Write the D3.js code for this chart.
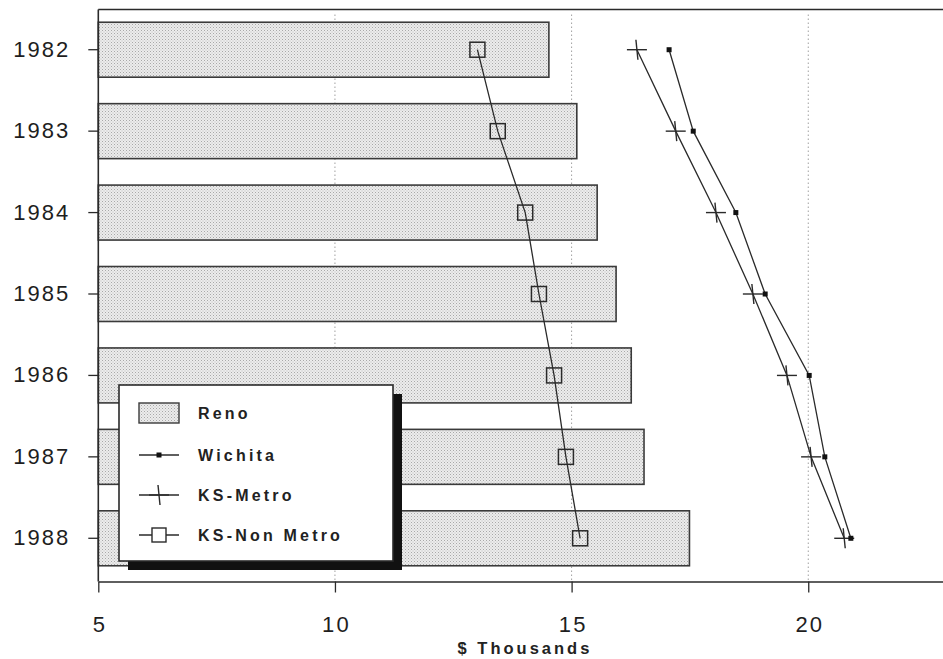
<!DOCTYPE html>
<html>
<head>
<meta charset="utf-8">
<script src="https://cdn.jsdelivr.net/npm/d3@7/dist/d3.min.js"></script>
<style>
  html, body { margin: 0; padding: 0; background: #fff; }
  svg { display: block; }
</style>
</head>
<body>
<svg id="chart" width="943" height="659"></svg>
<script>
// Per-capita income by year, $ thousands
const years = ["1982", "1983", "1984", "1985", "1986", "1987", "1988"];
const reno = [14.52, 15.11, 15.54, 15.94, 16.26, 16.53, 17.49];
const wichita = [17.06, 17.57, 18.47, 19.09, 20.02, 20.35, 20.90];
const ksMetro = [16.38, 17.20, 18.05, 18.83, 19.55, 20.06, 20.76];
const ksNonMetro = [13.01, 13.44, 14.02, 14.31, 14.63, 14.88, 15.18];
const xTicks = [5, 10, 15, 20];
const xTitle = "$ Thousands";
const legendLabels = ["Reno", "Wichita", "KS-Metro", "KS-Non Metro"];

const svg = d3.select("#chart");
const ink = "#2a2a2a";
const font = "'Liberation Sans', Arial, Helvetica, sans-serif";

// stipple fill for the bars
const defs = svg.append("defs");
const pat = defs.append("pattern")
  .attr("id", "stipple").attr("patternUnits", "userSpaceOnUse")
  .attr("width", 3).attr("height", 3);
pat.append("rect").attr("width", 3).attr("height", 3).attr("fill", "#ececec");
pat.append("rect").attr("x", 0).attr("y", 0).attr("width", 1).attr("height", 1).attr("fill", "#a8a8a8");
pat.append("rect").attr("x", 1.5).attr("y", 1.5).attr("width", 1).attr("height", 1).attr("fill", "#bdbdbd");

const plotLeft = 98.3, plotTop = 9.5, plotBottom = 581.5;
const x = d3.scaleLinear().domain([5, 23]).range([plotLeft, plotLeft + 18 * 47.33]);
const y = d3.scaleBand().domain(years).range([9, 579]).paddingInner(0.325).paddingOuter(0.1625);
const yc = d => y(d) + y.bandwidth() / 2;

// dotted gridlines
svg.append("g").selectAll("line").data(xTicks.slice(1)).join("line")
  .attr("x1", d => x(d)).attr("x2", d => x(d))
  .attr("y1", plotTop + 5).attr("y2", plotBottom)
  .attr("stroke", "#a0a0a0").attr("stroke-width", 1)
  .attr("stroke-dasharray", "1.5,2.5");

// Reno bars
svg.append("g").selectAll("rect").data(years).join("rect")
  .attr("x", x(5)).attr("y", d => y(d))
  .attr("width", (d, i) => x(reno[i]) - x(5))
  .attr("height", y.bandwidth())
  .attr("fill", "url(#stipple)")
  .attr("stroke", "#3a3a3a").attr("stroke-width", 1.6);

// frame: top edge and left edge
svg.append("line").attr("x1", plotLeft).attr("x2", 943).attr("y1", plotTop).attr("y2", plotTop)
  .attr("stroke", ink).attr("stroke-width", 1.6);
svg.append("line").attr("x1", plotLeft).attr("x2", plotLeft).attr("y1", plotTop).attr("y2", plotBottom)
  .attr("stroke", ink).attr("stroke-width", 1.6);

// x axis
const xAxis = svg.append("g").attr("transform", `translate(0,${plotBottom})`)
  .call(d3.axisBottom(x).tickValues(xTicks).tickSize(11).tickSizeOuter(0).tickPadding(24).tickFormat(d3.format("d")));
xAxis.select(".domain").attr("stroke", ink).attr("stroke-width", 1.6);
xAxis.selectAll(".tick line").attr("stroke", ink).attr("stroke-width", 1.3);
xAxis.selectAll(".tick text")
  .attr("fill", "#1e1e1e").attr("font-family", font)
  .attr("font-size", 22).attr("letter-spacing", 2.2).attr("dx", 1.1);

// y axis
const yAxis = svg.append("g").attr("transform", `translate(${plotLeft},0)`)
  .call(d3.axisLeft(y).tickSize(10).tickSizeOuter(0).tickPadding(20));
yAxis.select(".domain").remove();
yAxis.selectAll(".tick line").attr("stroke", ink).attr("stroke-width", 1.3);
yAxis.selectAll(".tick text")
  .attr("fill", "#1e1e1e").attr("font-family", font)
  .attr("font-size", 22).attr("letter-spacing", 2).attr("dx", 2);

// axis title
svg.append("text").attr("x", 525).attr("y", 654).attr("text-anchor", "middle")
  .attr("font-family", font).attr("font-weight", "bold")
  .attr("font-size", 16.5).attr("letter-spacing", 3).attr("fill", "#222")
  .text(xTitle);

// line series
const line = d3.line().x(d => x(d.v)).y(d => yc(d.k));
const seriesData = arr => years.map((k, i) => ({ k, v: arr[i] }));

function drawLine(arr) {
  svg.append("path").datum(seriesData(arr)).attr("d", line)
    .attr("fill", "none").attr("stroke", ink).attr("stroke-width", 1.3);
}
drawLine(ksNonMetro);
drawLine(ksMetro);
drawLine(wichita);

// markers
function dotMarker(g, cx, cy) {
  g.append("rect").attr("x", cx - 2.5).attr("y", cy - 2.5).attr("width", 5).attr("height", 5).attr("fill", "#111");
}
function plusMarker(g, cx, cy) {
  g.append("line").attr("x1", cx - 10).attr("x2", cx + 10).attr("y1", cy).attr("y2", cy)
    .attr("stroke", ink).attr("stroke-width", 1.4);
  g.append("line").attr("x1", cx - 1).attr("x2", cx + 1).attr("y1", cy - 10).attr("y2", cy + 10)
    .attr("stroke", ink).attr("stroke-width", 1.4);
}
function squareMarker(g, cx, cy) {
  g.append("rect").attr("x", cx - 7.5).attr("y", cy - 7.5).attr("width", 15).attr("height", 15)
    .attr("fill", "none").attr("stroke", ink).attr("stroke-width", 1.5);
}
const mk = svg.append("g");
seriesData(ksNonMetro).forEach(d => squareMarker(mk, x(d.v), yc(d.k)));
seriesData(ksMetro).forEach(d => plusMarker(mk, x(d.v), yc(d.k)));
seriesData(wichita).forEach(d => dotMarker(mk, x(d.v), yc(d.k)));

// legend with drop shadow
const lg = svg.append("g");
lg.append("rect").attr("x", 128).attr("y", 394).attr("width", 274).attr("height", 176).attr("fill", "#111");
lg.append("rect").attr("x", 119).attr("y", 385).attr("width", 274).attr("height", 176)
  .attr("fill", "#fff").attr("stroke", ink).attr("stroke-width", 1.6);
const rows = [413, 455, 495, 535];
lg.append("rect").attr("x", 139).attr("y", 403).attr("width", 40).attr("height", 20)
  .attr("fill", "url(#stipple)").attr("stroke", "#3a3a3a").attr("stroke-width", 1.4);
[1, 2, 3].forEach(i => {
  lg.append("line").attr("x1", 139).attr("x2", 179).attr("y1", rows[i]).attr("y2", rows[i])
    .attr("stroke", ink).attr("stroke-width", 1.3);
});
dotMarker(lg, 159, rows[1]);
plusMarker(lg, 159, rows[2]);
lg.append("rect").attr("x", 152).attr("y", rows[3] - 7).attr("width", 14).attr("height", 14)
  .attr("fill", "#fff").attr("stroke", ink).attr("stroke-width", 1.4);
lg.selectAll("text.lab").data(legendLabels).join("text").attr("class", "lab")
  .attr("x", 198).attr("y", (d, i) => rows[i] + 6)
  .attr("font-family", font).attr("font-weight", "bold")
  .attr("font-size", 16).attr("letter-spacing", 3.2).attr("fill", "#222")
  .text(d => d);
</script>
</body>
</html>
